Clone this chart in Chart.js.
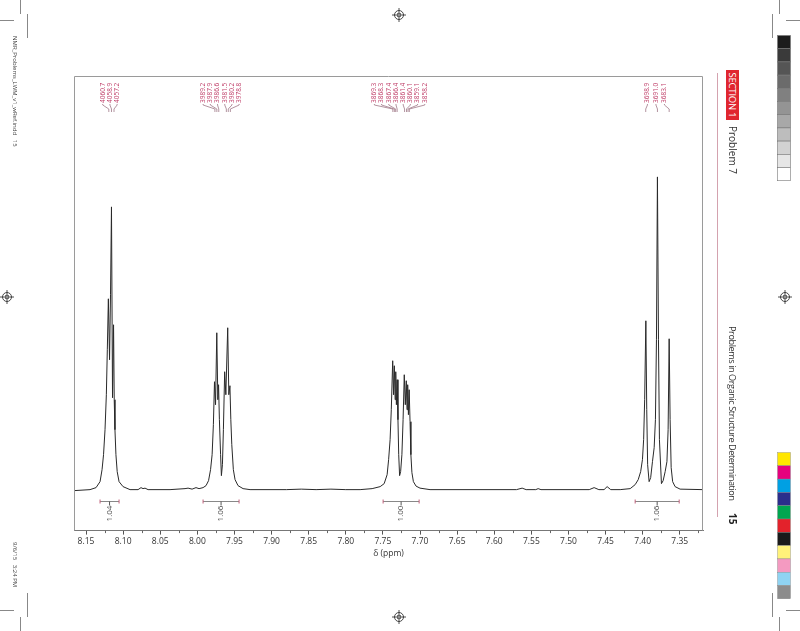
<!DOCTYPE html>
<html><head><meta charset="utf-8">
<script src="https://cdn.jsdelivr.net/npm/chart.js@4"></script>
<style>
html,body{margin:0;padding:0;background:#fff;width:800px;height:631px;overflow:hidden;}
#wrap{position:relative;width:800px;height:631px;}
#c{position:absolute;left:0;top:0;}
.rot{position:absolute;transform-origin:0 0;transform:rotate(90deg);white-space:nowrap;font-family:"Open Sans",sans-serif;line-height:1;}
svg{position:absolute;left:0;top:0;}
</style></head><body>
<div id="wrap">
<canvas id="c" width="800" height="631"></canvas>
<svg width="800" height="631" id="deco"></svg>
<div class="rot" style="left:739px;top:70px;width:50px;height:13px;background:#e0262f;color:#fff;font-size:9.5px;line-height:13px;text-align:center;letter-spacing:-0.2px;">SECTION 1</div>
<div class="rot" style="left:739px;top:126px;font-size:10px;line-height:13px;color:#333;">Problem 7</div>
<div class="rot" style="left:739px;top:326px;font-size:9.2px;line-height:13px;color:#333;letter-spacing:-0.45px;">Problems in Organic Structure Determination</div>
<div class="rot" style="left:739px;top:513px;font-size:10px;line-height:13px;color:#222;font-weight:bold;">15</div>
<div class="rot" style="left:19px;top:36px;font-size:6px;line-height:8px;color:#444;">NMR_Problems_LWM_v1_wRef.indd&nbsp;&nbsp;&nbsp;15</div>
<div class="rot" style="left:19px;top:542px;font-size:6px;line-height:8px;color:#444;">9/6/15&nbsp;&nbsp;&nbsp;3:24 PM</div>
</div>
<script>
// ---- spectrum (chemical shift in ppm, relative intensity) ----
const shiftPpm = [8.1662,8.1446,8.1365,8.1311,8.1284,8.1264,8.1244,8.1226,8.1213,8.1199,8.1183,8.1170,8.1157,8.1143,8.1129,8.1120,8.1110,8.1097,8.1080,8.1055,8.1001,8.0907,8.0799,8.0759,8.0732,8.0705,8.0664,8.0368,8.0166,8.0125,8.0071,8.0018,7.9977,7.9923,7.9883,7.9849,7.9822,7.9801,7.9784,7.9769,7.9755,7.9738,7.9724,7.9714,7.9703,7.9687,7.9676,7.9662,7.9649,7.9632,7.9616,7.9591,7.9576,7.9561,7.9549,7.9536,7.9515,7.9492,7.9452,7.9384,7.9290,7.8800,7.8600,7.8400,7.8200,7.8000,7.7807,7.7645,7.7537,7.7483,7.7443,7.7423,7.7403,7.7387,7.7368,7.7356,7.7346,7.7335,7.7327,7.7318,7.7308,7.7297,7.7287,7.7275,7.7261,7.7244,7.7228,7.7212,7.7198,7.7185,7.7175,7.7166,7.7156,7.7146,7.7134,7.7123,7.7109,7.7089,7.7053,7.7000,7.6865,7.5700,7.5624,7.5570,7.5440,7.5408,7.5370,7.4720,7.4654,7.4590,7.4520,7.4479,7.4430,7.4303,7.4168,7.4101,7.4060,7.4027,7.4003,7.3987,7.3973,7.3957,7.3945,7.3933,7.3913,7.3892,7.3868,7.3845,7.3828,7.3814,7.3801,7.3787,7.3774,7.3747,7.3724,7.3697,7.3673,7.3657,7.3643,7.3630,7.3616,7.3596,7.3563,7.3496,7.3187];
const intensity = [-1,0,2,8,20,35,60,95,140,191,130,195,283,92,165,90,60,35,18,8,3,0,0,2,1,1.5,0,0,1,1.5,0.5,2,1,2,4,9,20,35,65,108,85,157,90,105,70,35,14,25,60,118,95,162,95,104,70,45,20,10,4,1,0,0,0.5,0,0.5,0,0,1,3,6,15,30,50,80,129,95,124,90,118,85,110,70,35,14,18,35,70,115,85,109,80,105,75,100,68,35,17,8,3.5,1.5,0,0,1.5,0,0,1,0,0,2,0,0,3,0,0,1,5,10,18,30,50,90,169,80,25,8,12,28,42,70,150,313,150,50,6,9,18,28,60,151,70,22,8,3,0.5,0];

// ---- x axis ticks ----
const xMin = 7.3187, xMax = 8.1662, majorStep = 0.05, minorStep = 0.025;

// ---- peak picks (Hz at 500.13 MHz) and their multiplet groups ----
const specMHz = 500.13;
const peakHz = [4060.7,4058.9,4057.2, 3989.2,3987.9,3986.6,3981.5,3980.2,3978.8, 3869.3,3868.3,3867.4,3866.4,3861.4,3860.1,3859.1,3858.2, 3698.9,3691.0,3683.1];
const peakGroup = [0,0,0, 1,1,1,1,1,1, 2,2,2,2,2,2,2,2, 3,3,3];

// ---- integrals ----
const integralFrom = [8.1311, 7.9923, 7.7497, 7.4101];
const integralTo   = [8.1055, 7.9438, 7.7012, 7.3508];
const integralValue = ['1.04', '1.06', '1.00', '1.06'];

const FONT = '"Open Sans", sans-serif';

const annot = {
  id: 'annot',
  afterDatasetsDraw(chart) {
    const ctx = chart.ctx, xs = chart.scales.x, ys = chart.scales.y, ca = chart.chartArea;
    ctx.save();
    // frame
    ctx.strokeStyle = '#9a9a9a'; ctx.lineWidth = 1;
    ctx.beginPath();
    ctx.moveTo(ca.left + 0.5, ca.bottom); ctx.lineTo(ca.left + 0.5, ca.top + 0.5);
    ctx.lineTo(ca.right - 0.5, ca.top + 0.5); ctx.lineTo(ca.right - 0.5, ca.bottom);
    ctx.stroke();
    // minor ticks
    ctx.strokeStyle = '#666';
    for (let v = Math.ceil(xMin / minorStep) * minorStep; v <= xMax; v += minorStep) {
      const k = Math.round(v / minorStep);
      if (k % 2 === 0) continue;
      const px = Math.round(xs.getPixelForValue(v)) + 0.5;
      ctx.beginPath(); ctx.moveTo(px, ca.bottom); ctx.lineTo(px, ca.bottom + 2.5); ctx.stroke();
    }
    // integrals
    const yBar = Math.round(ys.getPixelForValue(-11.5)) + 0.5;
    for (let i = 0; i < integralFrom.length; i++) {
      const a = xs.getPixelForValue(integralFrom[i]), b = xs.getPixelForValue(integralTo[i]);
      const m = (a + b) / 2;
      ctx.strokeStyle = '#888'; ctx.lineWidth = 1;
      ctx.beginPath(); ctx.moveTo(a, yBar); ctx.lineTo(b, yBar); ctx.stroke();
      ctx.strokeStyle = '#c0607a';
      ctx.beginPath(); ctx.moveTo(a, yBar - 2); ctx.lineTo(a, yBar + 2); ctx.moveTo(b, yBar - 2); ctx.lineTo(b, yBar + 2); ctx.stroke();
      ctx.strokeStyle = '#555';
      ctx.beginPath(); ctx.moveTo(m, yBar); ctx.lineTo(m, yBar + 4); ctx.stroke();
      ctx.save();
      ctx.translate(m, yBar + 12); ctx.rotate(-Math.PI / 2);
      ctx.fillStyle = '#444'; ctx.font = '8px ' + FONT; ctx.textAlign = 'center'; ctx.textBaseline = 'middle';
      ctx.fillText(integralValue[i], 0, 0);
      ctx.restore();
    }
    // peak labels
    const groups = {};
    peakHz.forEach((hz, i) => { (groups[peakGroup[i]] = groups[peakGroup[i]] || []).push(hz); });
    const spacing = [7.2, 7.2, 7.2, 8.5];
    Object.keys(groups).forEach(g => {
      const list = groups[g];
      const pxs = list.map(hz => xs.getPixelForValue(hz / specMHz));
      const center = (pxs[0] + pxs[pxs.length - 1]) / 2 - 1.5;
      const sp = spacing[g];
      list.forEach((hz, j) => {
        const lx = center + (j - (list.length - 1) / 2) * sp;
        const px = pxs[j];
        const yb = ca.top + 28;
        ctx.strokeStyle = '#a07888'; ctx.lineWidth = 0.8;
        ctx.beginPath(); ctx.moveTo(lx, yb); ctx.lineTo(lx, yb + 1); ctx.lineTo(px, yb + 5); ctx.lineTo(px, yb + 8); ctx.stroke();
        ctx.save();
        ctx.translate(lx, yb - 1); ctx.rotate(-Math.PI / 2);
        ctx.fillStyle = '#c0406a'; ctx.font = '6.5px ' + FONT; ctx.textAlign = 'left'; ctx.textBaseline = 'middle';
        ctx.fillText(hz.toFixed(1), 0, 0);
        ctx.restore();
      });
    });
    ctx.restore();
  }
};

new Chart(document.getElementById('c'), {
  type: 'line',
  data: {
    datasets: [{
      data: shiftPpm.map((x, i) => ({ x, y: intensity[i] })),
      borderColor: '#2a2a2a', borderWidth: 1, pointRadius: 0, tension: 0, fill: false
    }]
  },
  options: {
    responsive: false, animation: false, events: [],
    layout: { padding: { left: 74, top: 76, right: 97, bottom: 72 } },
    plugins: { legend: { display: false }, tooltip: { enabled: false } },
    scales: {
      x: {
        type: 'linear', reverse: true, min: xMin, max: xMax,
        ticks: { stepSize: majorStep, includeBounds: false, color: '#333', padding: 2,
          font: { family: FONT, size: 8.5 }, callback: v => v.toFixed(2), maxRotation: 0, autoSkip: false },
        grid: { drawOnChartArea: false, tickLength: 4, color: '#555' },
        border: { display: true, color: '#777' },
        title: { display: true, text: 'δ (ppm)', color: '#333', font: { family: FONT, size: 8.5 }, padding: { top: 0, bottom: 0 } }
      },
      y: { display: false, min: -41, max: 414 }
    }
  },
  plugins: [annot]
});

// ---- page furniture (printer marks and colour bars) ----
const grays = ['#1c1c1c','#3a3a3a','#555','#6b6b6b','#808080','#949494','#a8a8a8','#bdbdbd','#d2d2d2','#e6e6e6','#ffffff'];
const colours = ['#ffe600','#e6007e','#00a0e3','#2b2e8c','#00a650','#e3222b','#1a1a1a','#fff27a','#f49ac1','#8fd3f2','#8c8c8c'];
const svg = document.getElementById('deco');
let s = '';
grays.forEach((c, i) => { s += `<rect x="777.5" y="${35.5 + i * 13.2}" width="13" height="13.2" fill="${c}" stroke="#777" stroke-width="0.6"/>`; });
colours.forEach((c, i) => { s += `<rect x="777.5" y="${452.5 + i * 13.3}" width="13" height="13.3" fill="${c}" stroke="#888" stroke-width="0.4"/>`; });
function reg(cx, cy) {
  return `<g stroke="#222" stroke-width="0.8" fill="none"><circle cx="${cx}" cy="${cy}" r="4.5"/><line x1="${cx - 7}" y1="${cy}" x2="${cx + 7}" y2="${cy}"/><line x1="${cx}" y1="${cy - 7}" x2="${cx}" y2="${cy + 7}"/></g><circle cx="${cx}" cy="${cy}" r="2.2" fill="#222"/><line x1="${cx - 2.2}" y1="${cy}" x2="${cx + 2.2}" y2="${cy}" stroke="#fff" stroke-width="0.6"/><line x1="${cx}" y1="${cy - 2.2}" x2="${cx}" y2="${cy + 2.2}" stroke="#fff" stroke-width="0.6"/>`;
}
s += reg(399, 15) + reg(399, 617) + reg(7, 297) + reg(785, 297);
s += '<g stroke="#555" stroke-width="0.7">';
s += '<line x1="20.5" y1="0" x2="20.5" y2="14"/><line x1="0" y1="20.5" x2="14" y2="20.5"/><line x1="27.5" y1="14" x2="27.5" y2="38"/>';
s += '<line x1="0" y1="610.5" x2="14" y2="610.5"/><line x1="20.5" y1="617" x2="20.5" y2="631"/><line x1="27.5" y1="593" x2="27.5" y2="617"/>';
s += '<line x1="779.5" y1="0" x2="779.5" y2="14"/><line x1="786" y1="20.5" x2="800" y2="20.5"/><line x1="772.5" y1="14" x2="772.5" y2="38"/>';
s += '<line x1="786" y1="610.5" x2="800" y2="610.5"/><line x1="779.5" y1="617" x2="779.5" y2="631"/><line x1="772.5" y1="593" x2="772.5" y2="617"/>';
s += '</g>';
s += '<line x1="717.5" y1="73" x2="717.5" y2="517" stroke="#c98a9a" stroke-width="0.8"/>';
svg.innerHTML = s;
</script>
</body></html>
